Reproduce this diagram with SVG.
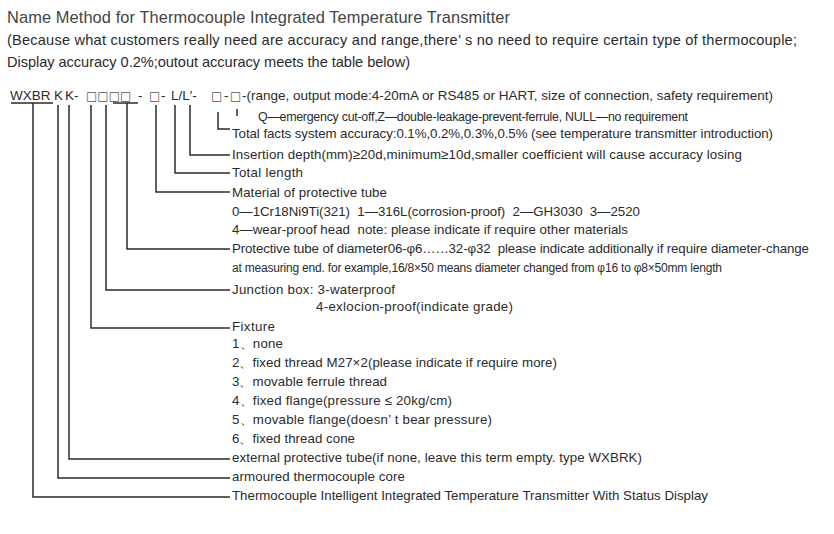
<svg xmlns="http://www.w3.org/2000/svg" width="834" height="534" viewBox="0 0 834 534" xml:space="preserve">
<style>
text{font-family:"Liberation Sans",Arial,"DejaVu Sans",sans-serif;fill:#2b2b2b;white-space:pre}
.t{font-size:16.4px;fill:#444}
.h{font-size:14.6px}
.c{font-size:13.5px}
.i{font-size:13.3px}
.bx{font-family:"DejaVu Sans",sans-serif;font-size:12px;fill:#555}
.ln{fill:none;stroke:#2b2b2b;stroke-width:1.5}
</style>
<rect width="834" height="534" fill="#fff"/>
<g id="header">
<text class="t" x="7" y="23" textLength="503" lengthAdjust="spacing">Name Method for Thermocouple Integrated Temperature Transmitter</text>
<text class="h" x="7" y="45" textLength="790" lengthAdjust="spacing">(Because what customers really need are accuracy and range,there’ s no need to require certain type of thermocouple;</text>
<text class="h" x="7" y="67" textLength="403" lengthAdjust="spacing">Display accuracy 0.2%;outout accuracy meets the table below)</text>
</g>
<g id="code">
<text class="c" y="100"><tspan x="10">WXBR</tspan><tspan x="54">K</tspan><tspan x="65">K-</tspan><tspan class="bx" x="86">□□□□</tspan><tspan x="138">-</tspan><tspan class="bx" x="149">□</tspan><tspan x="161">-</tspan><tspan x="171">L/L′-</tspan><tspan class="bx" x="211">□</tspan><tspan x="224">-</tspan><tspan class="bx" x="230">□</tspan><tspan x="242">-(range, output mode:4-20mA or RS485 or HART, size of connection, safety requirement)</tspan></text>
</g>
<g id="connectors">
<path class="ln" d="M11 103H53M33 103V497H230"/>
<path class="ln" d="M58 105V478H230"/>
<path class="ln" d="M69 105V459H230"/>
<path class="ln" d="M91 105V328H230"/>
<path class="ln" d="M106 105V290H230"/>
<path class="ln" d="M113 103H138M127 103V249H230"/>
<path class="ln" d="M156 105V192H230"/>
<path class="ln" d="M175 105V173H230"/>
<path class="ln" d="M190 105V155H230"/>
<path class="ln" d="M218 112V129H230"/>
<path class="ln" d="M237 109V116"/>
</g>
<g id="opt-safety"><text class="i" x="258" y="121" textLength="430" lengthAdjust="spacing" style="font-size:12.4px">Q—emergency cut-off,Z—double-leakage-prevent-ferrule, NULL—no requirement</text></g>
<g id="opt-accuracy"><text class="i" x="232" y="138" textLength="541" lengthAdjust="spacing">Total facts system accuracy:0.1%,0.2%,0.3%,0.5% (see temperature transmitter introduction)</text></g>
<g id="opt-insertion"><text class="i" x="232" y="159" textLength="510" lengthAdjust="spacing">Insertion depth(mm)≥20d,minimum≥10d,smaller coefficient will cause accuracy losing</text></g>
<g id="opt-length"><text class="i" x="232" y="177" textLength="71" lengthAdjust="spacing">Total length</text></g>
<g id="opt-material">
<text class="i" x="232" y="197" textLength="155" lengthAdjust="spacing">Material of protective tube</text>
<text class="i" x="232" y="216" textLength="408" lengthAdjust="spacing">0—1Cr18Ni9Ti(321)  1—316L(corrosion-proof)  2—GH3030  3—2520</text>
<text class="i" x="232" y="234" textLength="396" lengthAdjust="spacing">4—wear-proof head  note: please indicate if require other materials</text>
</g>
<g id="opt-diameter">
<text class="i" x="232" y="253" textLength="577" lengthAdjust="spacing">Protective tube of diameter06-φ6……32-φ32  please indicate additionally if require diameter-change</text>
<text class="i" x="232" y="272" textLength="490" lengthAdjust="spacing" style="font-size:12px">at measuring end. for example,16/8×50 means diameter changed from φ16 to φ8×50mm length</text>
</g>
<g id="opt-junction">
<text class="i" x="232" y="294" textLength="163" lengthAdjust="spacing">Junction box: 3-waterproof</text>
<text class="i" x="316" y="311" textLength="197" lengthAdjust="spacing">4-exlocion-proof(indicate grade)</text>
</g>
<g id="opt-fixture">
<text class="i" x="232" y="331" textLength="43" lengthAdjust="spacing">Fixture</text>
<text class="i" x="232" y="348" textLength="51" lengthAdjust="spacing">1、none</text>
<text class="i" x="232" y="367" textLength="325" lengthAdjust="spacing">2、fixed thread M27×2(please indicate if require more)</text>
<text class="i" x="232" y="386" textLength="155" lengthAdjust="spacing">3、movable ferrule thread</text>
<text class="i" x="232" y="405" textLength="220" lengthAdjust="spacing">4、fixed flange(pressure ≤ 20kg/cm)</text>
<text class="i" x="232" y="424" textLength="260" lengthAdjust="spacing">5、movable flange(doesn’ t bear pressure)</text>
<text class="i" x="232" y="443" textLength="123" lengthAdjust="spacing">6、fixed thread cone</text>
</g>
<g id="opt-external"><text class="i" x="232" y="462" textLength="410" lengthAdjust="spacing">external protective tube(if none, leave this term empty. type WXBRK)</text></g>
<g id="opt-armoured"><text class="i" x="232" y="481" textLength="173" lengthAdjust="spacing">armoured thermocouple core</text></g>
<g id="opt-product"><text class="i" x="232" y="500" textLength="476" lengthAdjust="spacing">Thermocouple Intelligent Integrated Temperature Transmitter With Status Display</text></g>
</svg>
